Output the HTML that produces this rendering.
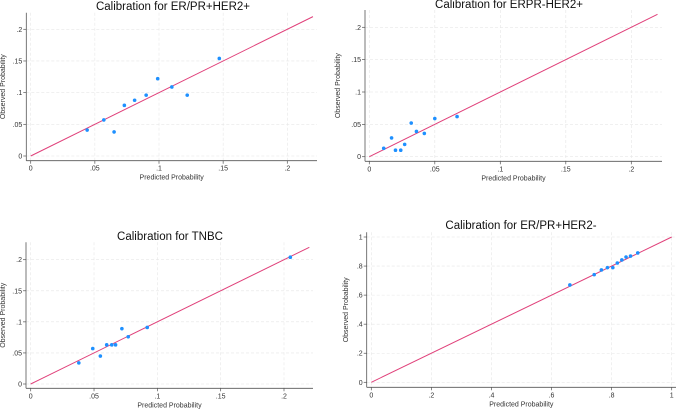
<!DOCTYPE html>
<html><head><meta charset="utf-8"><style>
html,body{margin:0;padding:0;background:#fff;}
svg{display:block;font-family:"Liberation Sans",sans-serif;}
</style></head><body>
<svg id="chart" width="677" height="409" viewBox="0 0 677 409"></svg>
<script>
// Panel 1: ER/PR+HER2+
const p1Pred = [0.044,0.057,0.065,0.073,0.081,0.090,0.099,0.110,0.122,0.147];
const p1Obs  = [0.041,0.057,0.038,0.080,0.088,0.096,0.122,0.109,0.096,0.154];
// Panel 2: ERPR-HER2+
const p2Pred = [0.011,0.017,0.020,0.024,0.027,0.032,0.036,0.042,0.050,0.067];
const p2Obs  = [0.013,0.029,0.010,0.010,0.019,0.052,0.039,0.036,0.059,0.062];
// Panel 3: TNBC
const p3Pred = [0.038,0.049,0.055,0.060,0.064,0.067,0.072,0.077,0.092,0.205];
const p3Obs  = [0.034,0.057,0.045,0.063,0.063,0.063,0.089,0.076,0.091,0.204];
// Panel 4: ER/PR+HER2-
const p4Pred = [0.661,0.742,0.766,0.786,0.804,0.819,0.834,0.848,0.863,0.887];
const p4Obs  = [0.670,0.741,0.773,0.789,0.789,0.821,0.842,0.862,0.869,0.890];
const smallTicks = [0,0.05,0.1,0.15,0.2];
const smallTickLabels = ["0",".05",".1",".15",".2"];
const bigTicks = [0,0.2,0.4,0.6,0.8,1];
const bigTickLabels = ["0",".2",".4",".6",".8","1"];
const smallLineEnd = [0,0.22];
const bigLineEnd = [0,1];

const NS="http://www.w3.org/2000/svg";
const svg=document.getElementById('chart');
function mk(tag,attrs,parent){const e=document.createElementNS(NS,tag);for(const k in attrs)e.setAttribute(k,attrs[k]);(parent||svg).appendChild(e);return e;}

function panel(cfg){
  const g=mk('g',{});
  
  
  const sx=v=>cfg.x0+(v-0)/(cfg.xv1)*(cfg.x1-cfg.x0);
  const sy=v=>cfg.y0+(v-0)/(cfg.yv1)*(cfg.y1-cfg.y0);
  // gridlines
  cfg.ticks.forEach((t,i)=>{
    const gy=mk('line',{x1:cfg.L,x2:cfg.R,y1:sy(t),y2:sy(t),stroke:'#e6e6e6','stroke-width':0.6,'stroke-dasharray':'3,2'},g);
    
    
    const gx=mk('line',{x1:sx(t),x2:sx(t),y1:cfg.T,y2:cfg.B,stroke:'#e6e6e6','stroke-width':0.6,'stroke-dasharray':'3,2'},g);
    
    
  });
  // axes
  const ya=mk('line',{x1:cfg.L,x2:cfg.L,y1:cfg.T,y2:cfg.B,stroke:'#555','stroke-width':0.8},g);
  
  
  const xa=mk('line',{x1:cfg.L,x2:cfg.R,y1:cfg.B,y2:cfg.B,stroke:'#555','stroke-width':0.8},g);
  
  
  cfg.ticks.forEach((t,i)=>{
    mk('line',{x1:cfg.L-3,x2:cfg.L,y1:sy(t),y2:sy(t),stroke:'#555','stroke-width':0.7},g);
    mk('line',{x1:sx(t),x2:sx(t),y1:cfg.B,y2:cfg.B+3,stroke:'#555','stroke-width':0.7},g);
    const yl=mk('text',{x:cfg.L-4,y:sy(t)+2.5,'font-size':7,'text-anchor':'end',fill:'#333'},g);
    yl.textContent=cfg.labels[i];
    
    
    const xl=mk('text',{x:sx(t),y:cfg.B+10,'font-size':7,'text-anchor':'middle',fill:'#333'},g);
    xl.textContent=cfg.labels[i];
    
    
  });
  // reference line
  const rl=mk('line',{x1:sx(cfg.line[0]),y1:sy(cfg.line[0]),x2:sx(cfg.line[1]),y2:sy(cfg.line[1]),stroke:'#e0407a','stroke-width':1},g);
  
  
  // points
  cfg.px.forEach((v,i)=>{
    const c=mk('circle',{cx:sx(v),cy:sy(cfg.py[i]),r:1.8,fill:'#1e90ff'},g);
    
    
  });
  const tt=mk('text',{x:cfg.tx,y:cfg.ty,'font-size':11.5,'text-anchor':'middle',fill:'#111'},g);
  tt.textContent=cfg.title;
  
  
  const xt=mk('text',{x:(cfg.L+cfg.R)/2,y:cfg.B+19,'font-size':7,'text-anchor':'middle',fill:'#333'},g);
  xt.textContent='Predicted Probability';
  
  
  const yc=(cfg.T+cfg.B)/2;
  const yt=mk('text',{x:cfg.ytx,y:yc,'font-size':7,'text-anchor':'middle',fill:'#333',transform:`rotate(-90 ${cfg.ytx} ${yc})`},g);
  yt.textContent='Observed Probability';
  
  
}

panel({name:'panel-er-pr-her2-pos',title:'Calibration for ER/PR+HER2+',px:p1Pred,py:p1Obs,ticks:smallTicks,labels:smallTickLabels,line:smallLineEnd,
  x0:30.7,x1:287.3,xv1:0.2,y0:156,y1:29.3,yv1:0.2,L:26.3,R:317,T:12.7,B:160.7,tx:173,ty:10,ytx:5});
panel({name:'panel-erpr-neg-her2-pos',title:'Calibration for ERPR-HER2+',px:p2Pred,py:p2Obs,ticks:smallTicks,labels:smallTickLabels,line:smallLineEnd,
  x0:369.3,x1:631.3,xv1:0.2,y0:156.7,y1:27.3,yv1:0.2,L:365,R:662,T:10,B:161.3,tx:509,ty:8,ytx:340});
panel({name:'panel-tnbc',title:'Calibration for TNBC',px:p3Pred,py:p3Obs,ticks:smallTicks,labels:smallTickLabels,line:smallLineEnd,
  x0:30.7,x1:284,xv1:0.2,y0:384,y1:259.7,yv1:0.2,L:26,R:313,T:242.3,B:388.3,tx:170,ty:240,ytx:5});
panel({name:'panel-er-pr-her2-neg',title:'Calibration for ER/PR+HER2-',px:p4Pred,py:p4Obs,ticks:bigTicks,labels:bigTickLabels,line:bigLineEnd,
  x0:371.3,x1:671.7,xv1:1,y0:382.3,y1:237,yv1:1,L:366.7,R:676,T:232.3,B:387.3,tx:521,ty:229,ytx:348});
</script>
</body></html>
